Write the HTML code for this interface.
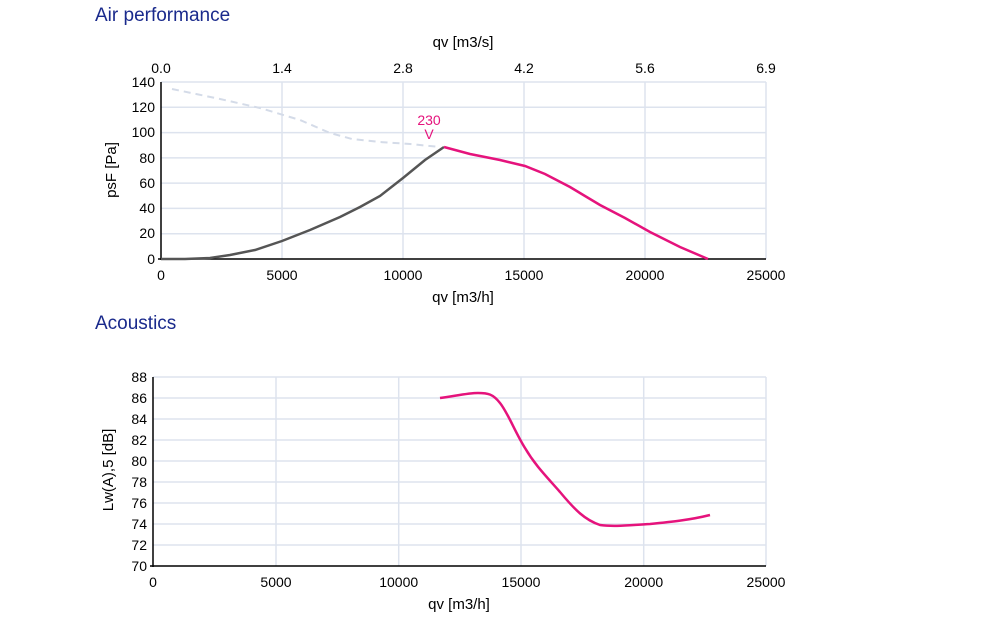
<!DOCTYPE html>
<html><head><style>
body{margin:0;background:#fff;width:1000px;height:613px;overflow:hidden;font-family:"Liberation Sans",sans-serif}
</style></head><body>
<svg width="1000" height="613" xmlns="http://www.w3.org/2000/svg" font-family="Liberation Sans, sans-serif">
<text x="95" y="21" font-size="19" fill="#1a2a8c">Air performance</text>
<text x="95" y="329" font-size="19" fill="#1a2a8c">Acoustics</text>
<g stroke="#dde3ee" stroke-width="1.5">
<line x1="282" y1="82" x2="282" y2="259"/><line x1="403" y1="82" x2="403" y2="259"/><line x1="524" y1="82" x2="524" y2="259"/><line x1="645" y1="82" x2="645" y2="259"/><line x1="766" y1="82" x2="766" y2="259"/>
<line x1="161" y1="82" x2="766" y2="82"/><line x1="161" y1="107.3" x2="766" y2="107.3"/><line x1="161" y1="132.6" x2="766" y2="132.6"/><line x1="161" y1="157.9" x2="766" y2="157.9"/><line x1="161" y1="183.1" x2="766" y2="183.1"/><line x1="161" y1="208.4" x2="766" y2="208.4"/><line x1="161" y1="233.7" x2="766" y2="233.7"/>
</g>
<g stroke="#000" stroke-width="1.5"><line x1="161" y1="82" x2="161" y2="260"/><line x1="158" y1="259" x2="766" y2="259"/></g>
<g font-size="14" fill="#000" text-anchor="end">
<text x="155" y="87">140</text><text x="155" y="112">120</text><text x="155" y="137">100</text><text x="155" y="163">80</text><text x="155" y="188">60</text><text x="155" y="213">40</text><text x="155" y="238">20</text><text x="155" y="264">0</text></g>
<g font-size="14" text-anchor="middle">
<text x="161" y="280">0</text><text x="282" y="280">5000</text><text x="403" y="280">10000</text><text x="524" y="280">15000</text><text x="645" y="280">20000</text><text x="766" y="280">25000</text>
<text x="161" y="73">0.0</text><text x="282" y="73">1.4</text><text x="403" y="73">2.8</text><text x="524" y="73">4.2</text><text x="645" y="73">5.6</text><text x="766" y="73">6.9</text>
<text x="463" y="47" font-size="15">qv [m3/s]</text><text x="463" y="302" font-size="15">qv [m3/h]</text>
<text x="429" y="125" fill="#e5137c">230</text><text x="429" y="139" fill="#e5137c">V</text></g>
<text transform="translate(116,170) rotate(-90)" font-size="15" text-anchor="middle">psF [Pa]</text>
<polyline fill="none" stroke="#d4dbe8" stroke-width="2" stroke-dasharray="7,5" points="172,89 220,99 260,108 300,120 330,133 352,139 380,142 410,144 440,147"/>
<polyline fill="none" stroke="#555" stroke-width="2.5" points="161,259 185,259 210,258 230,255 255,250 282,241 310,230 340,217 360,207 380,196 403,178 425,160 444,147"/>
<polyline fill="none" stroke="#e5137c" stroke-width="2.5" points="444,147 470,154 500,160 525,166 545,174 570,187 600,205 625,218 650,232 680,247 708,259"/>

<g stroke="#dde3ee" stroke-width="1.5">
<line x1="276" y1="377" x2="276" y2="566"/><line x1="398.7" y1="377" x2="398.7" y2="566"/><line x1="521" y1="377" x2="521" y2="566"/><line x1="643.7" y1="377" x2="643.7" y2="566"/><line x1="766" y1="377" x2="766" y2="566"/>
<line x1="153" y1="377" x2="766" y2="377"/><line x1="153" y1="398" x2="766" y2="398"/><line x1="153" y1="419" x2="766" y2="419"/><line x1="153" y1="440" x2="766" y2="440"/><line x1="153" y1="461" x2="766" y2="461"/><line x1="153" y1="482" x2="766" y2="482"/><line x1="153" y1="503" x2="766" y2="503"/><line x1="153" y1="524" x2="766" y2="524"/><line x1="153" y1="545" x2="766" y2="545"/>
</g>
<g stroke="#000" stroke-width="1.5"><line x1="153" y1="377" x2="153" y2="567"/><line x1="150" y1="566" x2="766" y2="566"/></g>
<g font-size="14" text-anchor="end">
<text x="147" y="382">88</text><text x="147" y="403">86</text><text x="147" y="424">84</text><text x="147" y="445">82</text><text x="147" y="466">80</text><text x="147" y="487">78</text><text x="147" y="508">76</text><text x="147" y="529">74</text><text x="147" y="550">72</text><text x="147" y="571">70</text></g>
<g font-size="14" text-anchor="middle">
<text x="153" y="587">0</text><text x="276" y="587">5000</text><text x="398.7" y="587">10000</text><text x="521" y="587">15000</text><text x="643.7" y="587">20000</text><text x="766" y="587">25000</text>
<text x="459" y="609" font-size="15">qv [m3/h]</text></g>
<text transform="translate(113,470) rotate(-90)" font-size="15" text-anchor="middle">Lw(A),5 [dB]</text>
<path fill="none" stroke="#e5137c" stroke-width="2.5" d="M440,398 C455,396 468,393 478,393 C488,393 493,394 500,403 C508,413 515,432 525,448 C535,465 545,475 560,492 C575,510 585,520 600,525 C615,527 630,525 650,524 C670,522 690,520 710,515"/>
</svg>
</body></html>
